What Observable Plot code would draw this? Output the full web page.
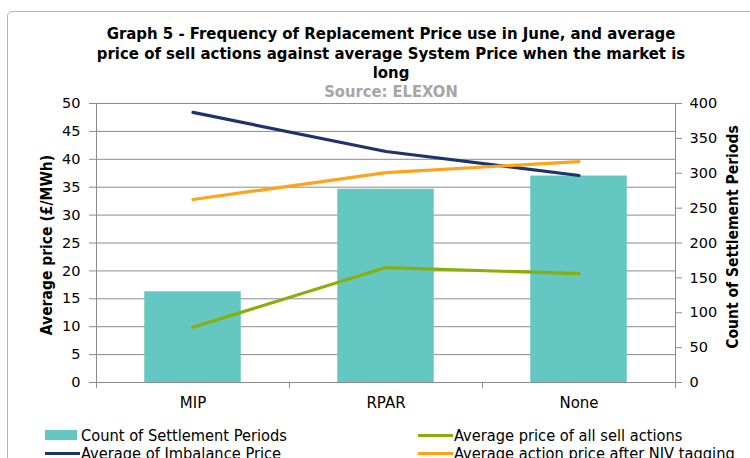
<!DOCTYPE html>
<html><head><meta charset="utf-8">
<script src="https://cdn.jsdelivr.net/npm/d3@7"></script>
<script src="https://cdn.jsdelivr.net/npm/@observablehq/plot@0.6"></script>
<style>
html,body{margin:0;padding:0;background:#fff;overflow:hidden;width:750px;height:458px}
#wrap{position:relative;width:750px;height:458px;overflow:hidden;font-family:"DejaVu Sans Condensed","DejaVu Sans",sans-serif;color:#000}
#frame{position:absolute;left:7px;top:11px;width:800px;height:500px;border:1px solid #b4b4b4;border-radius:5px;box-sizing:border-box}
.t{position:absolute;left:0;width:782px;text-align:center;font-weight:bold;font-size:16.6px;line-height:19px;white-space:nowrap}
#chart{position:absolute;left:0;top:0}
.ylab{position:absolute;font-weight:bold;font-size:15.5px;white-space:nowrap;text-align:center;line-height:18px}
.leg{position:absolute;font-size:16.3px;white-space:nowrap;line-height:17px}
.sw{position:absolute}
</style>
</head><body>
<div id="wrap">
  <div id="frame"></div>
  <div id="chart"></div>
</div>
<script>
const categories = ["MIP", "RPAR", "None"];
const countSettlementPeriods = [130, 277, 296];
const avgImbalancePrice = [48.4, 41.4, 37.1];
const avgSellActionPrice = [9.9, 20.6, 19.5];
const avgActionPriceNIV = [32.8, 37.6, 39.6];
const leftTicks = [0, 5, 10, 15, 20, 25, 30, 35, 40, 45, 50];
const rightTicks = [0, 50, 100, 150, 200, 250, 300, 350, 400];
const rightPerLeft = 400 / 50;
const barHalfWidth = 0.25;

const titleLines = [
  "Graph 5 - Frequency of Replacement Price use in June, and average",
  "price of sell actions against average System Price when the market is",
  "long"
];
const sourceText = "Source: ELEXON";
const yLeftTitle = "Average price (£/MWh)";
const yRightTitle = "Count of Settlement Periods";
const seriesNames = ["Count of Settlement Periods", "Average price of all sell actions", "Average of Imbalance Price", "Average action price after NIV tagging"];

const C = {bar: "#65c7c1", navy: "#1f336b", orange: "#ffa31a", green: "#8aae0a", grid: "#8c8c8c"};

const idx = categories.map((_, i) => i);
const lineData = (vals) => idx.map(i => ({x: i, y: vals[i]}));

const plot = Plot.plot({
  width: 750,
  height: 458,
  marginTop: 103,
  marginBottom: 76,
  marginLeft: 96,
  marginRight: 75,
  style: {fontFamily: "DejaVu Sans, sans-serif", fontSize: "14px", background: "transparent", color: "#000"},
  x: {domain: [-0.5, 2.5], axis: null},
  y: {domain: [0, 50], axis: null},
  marks: [
    Plot.gridY({ticks: leftTicks, stroke: C.grid, strokeOpacity: 1}),
    Plot.rectY(idx, {x1: i => i - barHalfWidth, x2: i => i + barHalfWidth, y1: 0, y2: i => countSettlementPeriods[i] / rightPerLeft, fill: C.bar}),
    Plot.frame({stroke: C.grid}),
    Plot.axisY({anchor: "left", ticks: leftTicks, tickSize: 7, tickPadding: 9, stroke: C.grid, label: null, fontSize: 14.5}),
    Plot.axisY({anchor: "right", ticks: rightTicks.map(v => v / rightPerLeft), tickFormat: d => d * rightPerLeft, tickSize: 6, tickPadding: 8, stroke: C.grid, label: null, fontSize: 14.5}),
    Plot.axisX({ticks: [-0.5, 0.5, 1.5, 2.5], tickFormat: () => "", tickSize: 6, stroke: C.grid, label: null}),
    Plot.axisX({ticks: idx, tickFormat: i => categories[i], tickSize: 0, tickPadding: 15, label: null, fontSize: 15}),
    Plot.line(lineData(avgSellActionPrice), {x: "x", y: "y", stroke: C.green, strokeWidth: 3.2}),
    Plot.line(lineData(avgImbalancePrice), {x: "x", y: "y", stroke: C.navy, strokeWidth: 3.2}),
    Plot.line(lineData(avgActionPriceNIV), {x: "x", y: "y", stroke: C.orange, strokeWidth: 3.2})
  ]
});
document.getElementById("chart").appendChild(plot);

const wrap = document.getElementById("wrap");
function addDiv(cls, text, css) {
  const d = document.createElement("div");
  d.className = cls;
  d.textContent = text;
  Object.assign(d.style, css);
  wrap.appendChild(d);
  return d;
}
titleLines.forEach((t, i) => addDiv("t", t, {top: (24 + i * 19.5) + "px"}));
addDiv("t", sourceText, {top: "82px", color: "#a6a6a6", fontSize: "16.4px"});

// rotated axis titles
const w1 = 260;
addDiv("ylab", yLeftTitle, {left: (47 - w1 / 2) + "px", top: (245 - 9) + "px", width: w1 + "px", transform: "rotate(-90deg)"});
addDiv("ylab", yRightTitle, {left: (733 - w1 / 2) + "px", top: (237 - 9) + "px", width: w1 + "px", transform: "rotate(-90deg)"});

// legend
const legItems = [
  {name: seriesNames[0], color: C.bar, type: "rect", x: 45, y: 435},
  {name: seriesNames[1], color: C.green, type: "line", x: 418, y: 435},
  {name: seriesNames[2], color: C.navy, type: "line", x: 45, y: 453},
  {name: seriesNames[3], color: C.orange, type: "line", x: 418, y: 453}
];
legItems.forEach(it => {
  const s = document.createElement("div");
  s.className = "sw";
  if (it.type === "rect") {
    Object.assign(s.style, {left: it.x + "px", top: (it.y - 5) + "px", width: "32px", height: "10px", background: it.color});
  } else {
    Object.assign(s.style, {left: it.x + "px", top: (it.y - 1.5) + "px", width: "35px", height: "3px", background: it.color});
  }
  wrap.appendChild(s);
  addDiv("leg", it.name, {left: (it.x + 36) + "px", top: (it.y - 8.5) + "px"});
});
</script>
</body></html>
